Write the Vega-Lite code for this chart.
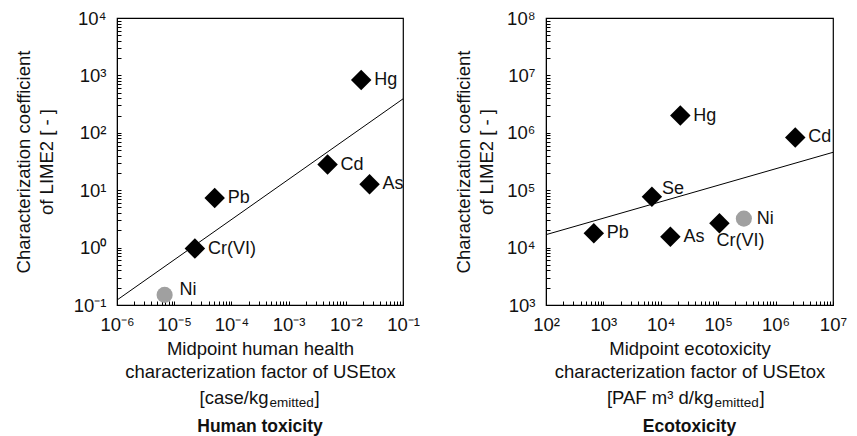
{
  "$schema": "https://vega.github.io/schema/vega-lite/v6.json",
  "padding": {"left": 13, "top": 8, "right": 5, "bottom": 0},
  "spacing": 33,
  "config": {
    "view": {"stroke": "#000", "strokeWidth": 1.2},
    "axis": {
      "domainColor": "#000", "tickColor": "#000", "tickSize": -4, "tickWidth": 1,
      "labelFont": "Liberation Sans", "titleFont": "Liberation Sans",
      "labelFontSize": 18.5, "titleFontSize": 18.5, "titleFontWeight": "normal",
      "labelColor": "#111", "titleColor": "#111",
      "labelFlush": false, "labelOverlap": false, "grid": false, "titleLineHeight": 23
    },
    "text": {"font": "Liberation Sans"}
  },
  "datasets": {
    "points": [
      {"panel": "human", "el": "Hg", "x": 0.0186, "y": 830},
      {"panel": "human", "el": "Cd", "x": 0.0048, "y": 28},
      {"panel": "human", "el": "As", "x": 0.026, "y": 12.7},
      {"panel": "human", "el": "Pb", "x": 0.000051, "y": 7.3},
      {"panel": "human", "el": "Cr(VI)", "x": 0.000023, "y": 0.96},
      {"panel": "human", "el": "Ni", "x": 0.0000068, "y": 0.15},
      {"panel": "eco", "el": "Hg", "x": 21900, "y": 2000000},
      {"panel": "eco", "el": "Cd", "x": 2200000, "y": 830000},
      {"panel": "eco", "el": "Se", "x": 7000, "y": 77000},
      {"panel": "eco", "el": "Pb", "x": 680, "y": 17800},
      {"panel": "eco", "el": "As", "x": 14700, "y": 15500},
      {"panel": "eco", "el": "Cr(VI)", "x": 105000, "y": 26600},
      {"panel": "eco", "el": "Ni", "x": 280000, "y": 32000}
    ],
    "fits": [
      {"panel": "human", "x": 0.000001, "y": 0.122},
      {"panel": "human", "x": 0.1, "y": 390},
      {"panel": "eco", "x": 100, "y": 16800},
      {"panel": "eco", "x": 10000000, "y": 457000}
    ]
  },
  "hconcat": [
    {
      "width": 286, "height": 287,
      "title": {"text": "Human toxicity", "orient": "bottom", "anchor": "middle", "fontSize": 17.5, "fontWeight": "bold", "font": "Liberation Sans", "color": "#111", "offset": 9},
      "resolve": {"scale": {"x": "independent"}, "axis": {"x": "independent"}},
      "layer": [
        {
          "data": {"name": "points"},
          "transform": [{"filter": "datum.panel === 'human' && datum.el !== 'Ni'"}],
          "mark": {"type": "point", "shape": "diamond", "filled": true, "size": 420, "color": "#000", "opacity": 1},
          "encoding": {
            "x": {"field": "x", "type": "quantitative", "scale": {"type": "log", "domain": [0.000001, 0.1], "nice": false},
              "axis": {
                "orient": "bottom",
                "values": [0.000001,0.000002,0.000003,0.000004,0.000005,0.000006,0.000007,0.000008,0.000009,0.00001,0.00002,0.00003,0.00004,0.00005,0.00006,0.00007,0.00008,0.00009,0.0001,0.0002,0.0003,0.0004,0.0005,0.0006,0.0007,0.0008,0.0009,0.001,0.002,0.003,0.004,0.005,0.006,0.007,0.008,0.009,0.01,0.02,0.03,0.04,0.05,0.06,0.07,0.08,0.09,0.1],
                "labelExpr": "abs(log(datum.value)/LN10 - round(log(datum.value)/LN10)) < 0.001 ? '10' + (round(log(datum.value)/LN10) < 0 ? '⁻' : '') + ['⁰','¹','²','³','⁴','⁵','⁶','⁷','⁸','⁹'][abs(round(log(datum.value)/LN10))] : ''",
                "labelPadding": 14, "titlePadding": 6,
                "title": ["Midpoint human health", "characterization factor of USEtox"]
              }},
            "y": {"field": "y", "type": "quantitative", "scale": {"type": "log", "domain": [0.1, 10000], "nice": false},
              "axis": {
                "values": [0.1,0.2,0.3,0.4,0.5,0.6,0.7,0.8,0.9,1,2,3,4,5,6,7,8,9,10,20,30,40,50,60,70,80,90,100,200,300,400,500,600,700,800,900,1000,2000,3000,4000,5000,6000,7000,8000,9000,10000],
                "labelExpr": "abs(log(datum.value)/LN10 - round(log(datum.value)/LN10)) < 0.001 ? '10' + (round(log(datum.value)/LN10) < 0 ? '⁻' : '') + ['⁰','¹','²','³','⁴','⁵','⁶','⁷','⁸','⁹'][abs(round(log(datum.value)/LN10))] : ''",
                "labelPadding": 15, "titlePadding": 17,
                "title": ["Characterization coefficient", "of LIME2 [ - ]"]
              }}
          }
        },
        {
          "data": {"name": "fits"},
          "transform": [{"filter": "datum.panel === 'human'"}],
          "mark": {"type": "line", "color": "#000", "strokeWidth": 1},
          "encoding": {
            "x": {"field": "x", "type": "quantitative", "scale": {"type": "log", "domain": [0.000001, 0.1], "nice": false},
              "axis": {"orient": "bottom", "labels": false, "ticks": false, "domain": false, "title": "[case/kg", "titleX": 151, "titleY": 98, "titleAlign": "right", "titleBaseline": "alphabetic", "titleAngle": 0}},
            "y": {"field": "y", "type": "quantitative", "scale": {"type": "log", "domain": [0.1, 10000], "nice": false}}
          }
        },
        {
          "data": {"name": "points"},
          "transform": [{"filter": "datum.panel === 'human'"}],
          "encoding": {
            "x": {"field": "x", "type": "quantitative", "scale": {"type": "log", "domain": [0.000001, 0.1], "nice": false},
              "axis": {"orient": "bottom", "labels": false, "ticks": false, "domain": false, "title": "emitted", "titleFontSize": 13.5, "titleX": 152, "titleY": 101, "titleAlign": "left", "titleBaseline": "alphabetic", "titleAngle": 0}},
            "y": {"field": "y", "type": "quantitative", "scale": {"type": "log", "domain": [0.1, 10000], "nice": false}},
            "text": {"field": "el"}
          },
          "layer": [
            {"transform": [{"filter": "datum.el !== 'Ni'"}], "mark": {"type": "text", "align": "left", "baseline": "middle", "dx": 13, "fontSize": 18, "color": "#111"}},
            {"transform": [{"filter": "datum.el === 'Ni'"}], "mark": {"type": "text", "align": "left", "baseline": "middle", "dx": 15, "dy": -5, "fontSize": 18, "color": "#111"}}
          ]
        },
        {
          "data": {"name": "points"},
          "transform": [{"filter": "datum.panel === 'human' && datum.el === 'Ni'"}],
          "mark": {"type": "circle", "size": 260, "color": "#a0a0a0", "opacity": 1},
          "encoding": {
            "x": {"field": "x", "type": "quantitative", "scale": {"type": "log", "domain": [0.000001, 0.1], "nice": false},
              "axis": {"orient": "bottom", "labels": false, "ticks": false, "domain": false, "title": "]", "titleX": 197, "titleY": 98, "titleAlign": "left", "titleBaseline": "alphabetic", "titleAngle": 0}},
            "y": {"field": "y", "type": "quantitative", "scale": {"type": "log", "domain": [0.1, 10000], "nice": false}}
          }
        }
      ]
    },
    {
      "width": 287, "height": 287,
      "title": {"text": "Ecotoxicity", "orient": "bottom", "anchor": "middle", "fontSize": 17.5, "fontWeight": "bold", "font": "Liberation Sans", "color": "#111", "offset": 9},
      "resolve": {"scale": {"x": "independent"}, "axis": {"x": "independent"}},
      "layer": [
        {
          "data": {"name": "points"},
          "transform": [{"filter": "datum.panel === 'eco' && datum.el !== 'Ni'"}],
          "mark": {"type": "point", "shape": "diamond", "filled": true, "size": 420, "color": "#000", "opacity": 1},
          "encoding": {
            "x": {"field": "x", "type": "quantitative", "scale": {"type": "log", "domain": [100, 10000000], "nice": false},
              "axis": {
                "orient": "bottom",
                "values": [100,200,300,400,500,600,700,800,900,1000,2000,3000,4000,5000,6000,7000,8000,9000,10000,20000,30000,40000,50000,60000,70000,80000,90000,100000,200000,300000,400000,500000,600000,700000,800000,900000,1000000,2000000,3000000,4000000,5000000,6000000,7000000,8000000,9000000,10000000],
                "labelExpr": "abs(log(datum.value)/LN10 - round(log(datum.value)/LN10)) < 0.001 ? '10' + (round(log(datum.value)/LN10) < 0 ? '⁻' : '') + ['⁰','¹','²','³','⁴','⁵','⁶','⁷','⁸','⁹'][abs(round(log(datum.value)/LN10))] : ''",
                "labelPadding": 14, "titlePadding": 6,
                "title": ["Midpoint ecotoxicity", "characterization factor of USEtox"]
              }},
            "y": {"field": "y", "type": "quantitative", "scale": {"type": "log", "domain": [1000, 100000000], "nice": false},
              "axis": {
                "values": [1000,2000,3000,4000,5000,6000,7000,8000,9000,10000,20000,30000,40000,50000,60000,70000,80000,90000,100000,200000,300000,400000,500000,600000,700000,800000,900000,1000000,2000000,3000000,4000000,5000000,6000000,7000000,8000000,9000000,10000000,20000000,30000000,40000000,50000000,60000000,70000000,80000000,90000000,100000000],
                "labelExpr": "abs(log(datum.value)/LN10 - round(log(datum.value)/LN10)) < 0.001 ? '10' + (round(log(datum.value)/LN10) < 0 ? '⁻' : '') + ['⁰','¹','²','³','⁴','⁵','⁶','⁷','⁸','⁹'][abs(round(log(datum.value)/LN10))] : ''",
                "labelPadding": 15, "titlePadding": 10,
                "title": ["Characterization coefficient", "of LIME2 [ - ]"]
              }}
          }
        },
        {
          "data": {"name": "fits"},
          "transform": [{"filter": "datum.panel === 'eco'"}],
          "mark": {"type": "line", "color": "#000", "strokeWidth": 1},
          "encoding": {
            "x": {"field": "x", "type": "quantitative", "scale": {"type": "log", "domain": [100, 10000000], "nice": false},
              "axis": {"orient": "bottom", "labels": false, "ticks": false, "domain": false, "title": "[PAF m³ d/kg", "titleX": 167, "titleY": 98, "titleAlign": "right", "titleBaseline": "alphabetic", "titleAngle": 0}},
            "y": {"field": "y", "type": "quantitative", "scale": {"type": "log", "domain": [1000, 100000000], "nice": false}}
          }
        },
        {
          "data": {"name": "points"},
          "transform": [{"filter": "datum.panel === 'eco'"}],
          "encoding": {
            "x": {"field": "x", "type": "quantitative", "scale": {"type": "log", "domain": [100, 10000000], "nice": false},
              "axis": {"orient": "bottom", "labels": false, "ticks": false, "domain": false, "title": "emitted", "titleFontSize": 13.5, "titleX": 168, "titleY": 101, "titleAlign": "left", "titleBaseline": "alphabetic", "titleAngle": 0}},
            "y": {"field": "y", "type": "quantitative", "scale": {"type": "log", "domain": [1000, 100000000], "nice": false}},
            "text": {"field": "el"}
          },
          "layer": [
            {"transform": [{"filter": "datum.el !== 'Se' && datum.el !== 'Cr(VI)'"}], "mark": {"type": "text", "align": "left", "baseline": "middle", "dx": 13, "fontSize": 18, "color": "#111"}},
            {"transform": [{"filter": "datum.el === 'Se'"}], "mark": {"type": "text", "align": "left", "baseline": "middle", "dx": 10, "dy": -8, "fontSize": 18, "color": "#111"}},
            {"transform": [{"filter": "datum.el === 'Cr(VI)'"}], "mark": {"type": "text", "align": "left", "baseline": "middle", "dx": -3, "dy": 18, "fontSize": 18, "color": "#111"}}
          ]
        },
        {
          "data": {"name": "points"},
          "transform": [{"filter": "datum.panel === 'eco' && datum.el === 'Ni'"}],
          "mark": {"type": "circle", "size": 260, "color": "#a0a0a0", "opacity": 1},
          "encoding": {
            "x": {"field": "x", "type": "quantitative", "scale": {"type": "log", "domain": [100, 10000000], "nice": false},
              "axis": {"orient": "bottom", "labels": false, "ticks": false, "domain": false, "title": "]", "titleX": 213, "titleY": 98, "titleAlign": "left", "titleBaseline": "alphabetic", "titleAngle": 0}},
            "y": {"field": "y", "type": "quantitative", "scale": {"type": "log", "domain": [1000, 100000000], "nice": false}}
          }
        }
      ]
    }
  ]
}
